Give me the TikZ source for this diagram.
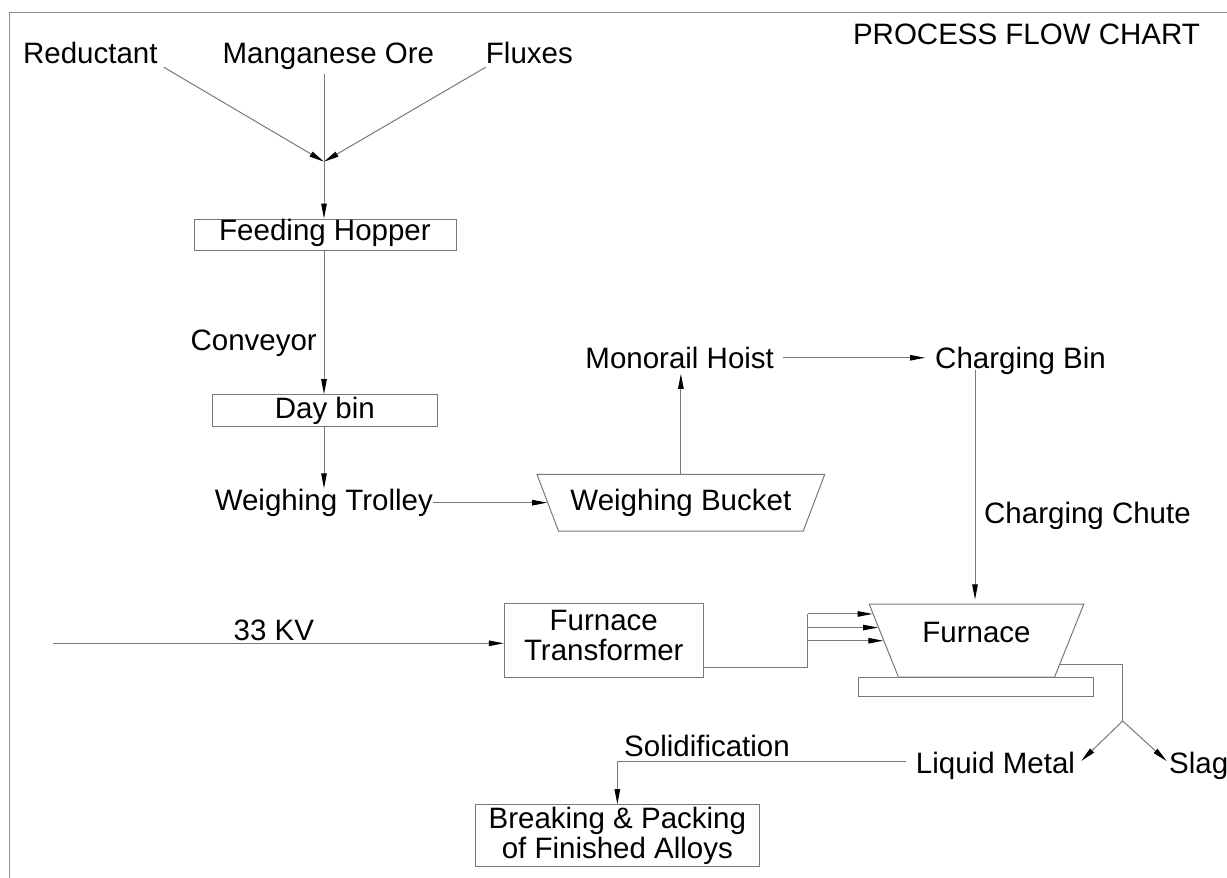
\documentclass[tikz,border=0pt]{standalone}
\usepackage{fontspec}
\setmainfont{Liberation Sans}
\usetikzlibrary{arrows.meta,shapes.geometric,calc}
\definecolor{lc}{RGB}{120,120,120}
\definecolor{fc}{RGB}{140,140,140}
\begin{document}
\begin{tikzpicture}[x=1pt,y=-1pt,
  every node/.style={font=\fontsize{29.5}{30}\selectfont, inner sep=0pt},
  txt/.style={anchor=base},
  box/.style={draw=lc, line width=1pt},
  trap/.style={draw=lc, line width=1pt, trapezium, trapezium stretches=true},
  ln/.style={draw=lc, line width=1pt},
  arr/.style={ln, -{Triangle[length=15pt,width=5.5pt,color=black]}}
]
\useasboundingbox (0,0) rectangle (1227,878);
% frame
\draw[draw=fc, line width=1pt] (9.3,878) -- (9.3,12.3) -- (1227,12.3);

% title
\node[txt] (title) at (1026.5,44.3) {PROCESS FLOW CHART};

% raw materials
\node[txt] (red) at (90.3,63.3) {Reductant};
\node[txt] (mn) at (328.3,63.3) {Manganese Ore};
\node[txt] (flx) at (529.4,63.3) {Fluxes};
\coordinate (mix) at (324,161.7);

% left column
\node[box, minimum width=262, minimum height=31, text height=21.5, text depth=9.1] (fh) at (325,234.5) {Feeding Hopper};
\node[txt] (cv) at (253.7,350) {Conveyor};
\node[box, minimum width=225.7, minimum height=32] (db) at (324.85,410.7) {Day bin};
\node[txt] (wt) at (323.8,510) {Weighing Trolley};

% bucket and hoist
\node[trap, trapezium left angle=125.2, trapezium right angle=125.2,
      minimum width=288.3, minimum height=56.7] (bk) at (680.85,502.65) {Weighing Bucket};
\node[txt] (mh) at (679.7,368.3) {Monorail Hoist};
\node[txt] (cb) at (1020.5,368.3) {Charging Bin};
\node[txt] (cc) at (1087.5,523) {Charging Chute};

% furnace
\node[trap, trapezium left angle=118.2, trapezium right angle=118.2,
      minimum width=215, minimum height=73, text height=21.1, text depth=16.7] (fn) at (976.5,640.5) {Furnace};
\node[box, minimum width=235, minimum height=18.7] (base) at (975.8,686.65) {};
\node[box, minimum width=199, minimum height=73.6, align=center] (tr) at (603.8,640.5) {Furnace\\Transformer\rule[-10pt]{0pt}{0pt}};
\node[txt] (kv) at (273.8,640) {33 KV};

% products
\node[txt] (lm) at (995.5,773) {Liquid Metal};
\node[txt, anchor=base west] (sl) at (1169,773) {Slag};
\node[txt] (sol) at (707,756.7) {Solidification};
\node[box, minimum width=283.3, minimum height=62, align=center] (bp) at (617.35,835.7) {Breaking \& Packing\\of Finished Alloys};

% --- connectors ---
\draw[arr] ([shift={(6,3.4)}]red.south east) -- (mix);
\draw[arr] ([shift={(0,3.4)}]flx.south west) -- (mix);
\draw[arr] ($(mix |- mn.south)+(0,4.5)$) -- (fh.north -| mix);
\draw[arr] (fh.south -| mix) -- (db.north -| mix);
\draw[arr] (db.south -| mix) -- (mix |- wt.north);
\draw[arr] (wt.east |- bk.west) -- (bk.west);
\draw[arr] (bk.north) -- ($(bk.north |- mh.south)+(0,5)$);
\draw[arr] ([xshift=9pt]mh.east) -- ([xshift=-10pt]mh.east -| cb.west);
\coordinate (chute) at ($(cb.south)+(-45.5,-4.5)$);
\draw[arr] (chute) -- ($(chute |- fn.north)+(0,-4)$);

% transformer to furnace
\coordinate (kv0) at (53.3,643.3);
\draw[arr] (kv0) -- (kv0 -| tr.west);
\path (fn.top left corner) -- (fn.bottom left corner)
  coordinate[pos=0.141] (f1) coordinate[pos=0.325] (f2) coordinate[pos=0.503] (f3);
\coordinate (jx) at (807.7,667.7);
\draw[ln] (tr.east |- jx) -- (jx) -- (jx |- f1);
\draw[arr] (jx |- f1) -- (f1);
\draw[arr] (jx |- f2) -- (f2);
\draw[arr] (jx |- f3) -- (f3);

% furnace outputs
\path (fn.top right corner) -- (fn.bottom right corner) coordinate[pos=0.822] (fo);
\coordinate (fork) at (1122.7,721);
\draw[ln] (fo) -| (fork);
\draw[arr] (fork) -- ($(lm.east)+(6,-4.4)$);
\draw[arr] (fork) -- ($(sl.west)+(-2.3,-4.3)$);
\draw[arr] ($(lm.west)+(-10,-3.7)$) -| (bp.north);
\end{tikzpicture}
\end{document}
